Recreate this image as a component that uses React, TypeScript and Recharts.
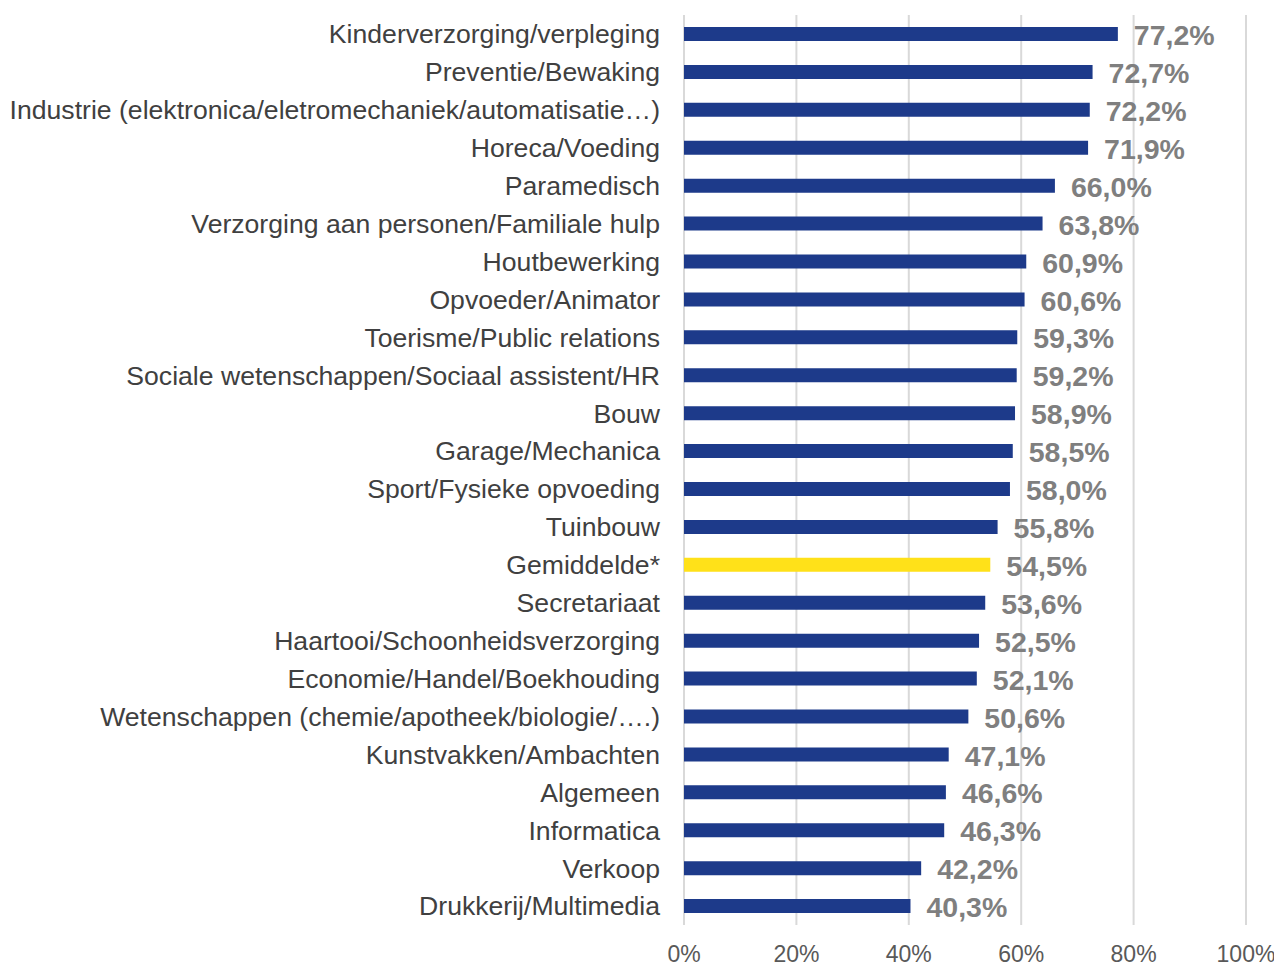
import { BarChart, Bar, XAxis, YAxis, CartesianGrid, Cell, LabelList } from 'recharts';

const categories = [
  'Kinderverzorging/verpleging',
  'Preventie/Bewaking',
  'Industrie (elektronica/eletromechaniek/automatisatie…)',
  'Horeca/Voeding',
  'Paramedisch',
  'Verzorging aan personen/Familiale hulp',
  'Houtbewerking',
  'Opvoeder/Animator',
  'Toerisme/Public relations',
  'Sociale wetenschappen/Sociaal assistent/HR',
  'Bouw',
  'Garage/Mechanica',
  'Sport/Fysieke opvoeding',
  'Tuinbouw',
  'Gemiddelde*',
  'Secretariaat',
  'Haartooi/Schoonheidsverzorging',
  'Economie/Handel/Boekhouding',
  'Wetenschappen (chemie/apotheek/biologie/….)',
  'Kunstvakken/Ambachten',
  'Algemeen',
  'Informatica',
  'Verkoop',
  'Drukkerij/Multimedia',
];

const values = [
  77.2, 72.7, 72.2, 71.9, 66.0, 63.8, 60.9, 60.6, 59.3, 59.2, 58.9, 58.5,
  58.0, 55.8, 54.5, 53.6, 52.5, 52.1, 50.6, 47.1, 46.6, 46.3, 42.2, 40.3,
];

const xTicks = [0, 20, 40, 60, 80, 100];

const data = categories.map((name, i) => ({ name, value: values[i] }));

const fmt = (v: number) => v.toFixed(1).replace('.', ',') + '%';

export default function App() {
  return (
    <div style={{ fontFamily: 'Arial, "Liberation Sans", sans-serif' }}>
      <BarChart
        width={1274}
        height={959}
        data={data}
        layout="vertical"
        margin={{ top: 7, right: 36, bottom: 12, left: 0 }}
        barCategoryGap={0}
      >
        <CartesianGrid horizontal={false} stroke="#d9d9d9" strokeWidth={2} />
        <XAxis
          type="number"
          domain={[0, 100]}
          ticks={xTicks}
          tickFormatter={(v) => v + '%'}
          axisLine={false}
          tickLine={false}
          tickSize={0}
          tickMargin={21}
          height={30}
          interval={0}
          tick={{ fontSize: 23, fill: '#595959' }}
        />
        <YAxis
          type="category"
          dataKey="name"
          width={676}
          axisLine={false}
          tickLine={false}
          tickSize={0}
          tickMargin={24}
          interval={0}
          tick={{ fontSize: 26.6, fill: '#404040' }}
        />
        <Bar dataKey="value" barSize={14} isAnimationActive={false}>
          {data.map((d, i) => (
            <Cell key={i} fill={d.name === 'Gemiddelde*' ? '#ffe119' : '#1d3a8a'} />
          ))}
          <LabelList
            dataKey="value"
            position="right"
            offset={16}
            formatter={(v: any) => fmt(Number(v))}
            style={{ fontSize: 28.5, fontWeight: 'bold', fill: '#7f7f7f' }}
            dy={1}
          />
        </Bar>
      </BarChart>
    </div>
  );
}
